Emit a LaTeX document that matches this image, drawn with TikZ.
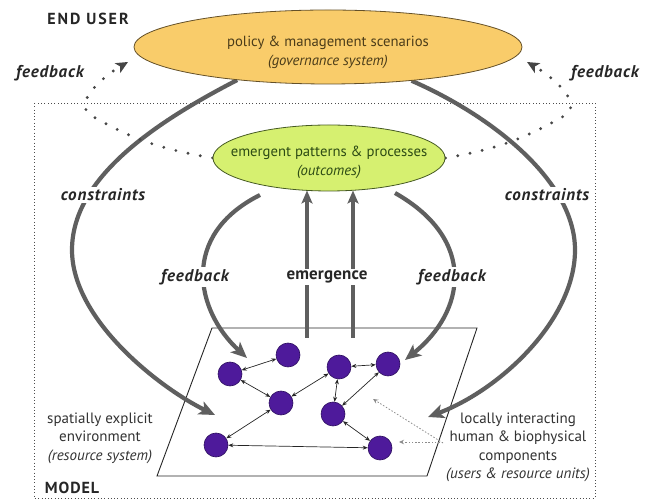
\documentclass[tikz,border=0pt]{standalone}
\usepackage{fontspec}
\setmainfont{PT Sans}
\usetikzlibrary{arrows.meta,shapes.geometric}
\definecolor{ellorange}{RGB}{249,204,106}
\definecolor{ellorangeline}{RGB}{100,80,40}
\definecolor{ellgreen}{RGB}{214,240,112}
\definecolor{ellgreenline}{RGB}{70,90,35}
\definecolor{txtbrown}{RGB}{75,60,25}
\definecolor{txtgreen}{RGB}{45,75,20}
\definecolor{arrowgray}{RGB}{95,95,95}
\definecolor{dotgray}{RGB}{70,70,70}
\definecolor{agentpurple}{RGB}{78,26,155}
\definecolor{agentline}{RGB}{45,15,95}
\definecolor{txtgray}{RGB}{50,50,50}
\pgfdeclarelayer{back}
\pgfsetlayers{back,main}
\begin{document}
\begin{tikzpicture}[x=1pt,y=1pt,
  bigell/.style={ellipse, draw=ellorangeline, line width=0.8pt, fill=ellorange, minimum width=388pt, minimum height=74pt, inner sep=0pt},
  midell/.style={ellipse, draw=ellgreenline, line width=0.8pt, fill=ellgreen, minimum width=232pt, minimum height=66pt, inner sep=0pt},
  elltxt/.style={font=\fontsize{14.7}{17}\selectfont, inner sep=0pt},
  lab/.style={font=\fontsize{17}{20}\selectfont\bfseries\itshape\addfontfeature{LetterSpace=5}, fill=white, inner sep=2pt, text=black!85},
  labup/.style={font=\fontsize{17}{20}\selectfont\bfseries\addfontfeature{LetterSpace=1}, fill=white, inner sep=2pt, text=black!85},
  head/.style={font=\fontsize{16}{19}\selectfont\bfseries, text=black!85, inner sep=0pt},
  desc/.style={font=\fontsize{15}{18.5}\selectfont, align=center, text=txtgray, inner sep=0pt},
  bigarrow/.style={draw=arrowgray, line width=4.2pt, -{Stealth[length=16pt,width=14pt,inset=4pt]}},
  emarrow/.style={draw=arrowgray, line width=3.6pt, -{Stealth[length=13pt,width=11pt,inset=3pt]}},
  dotarrow/.style={draw=dotgray, line width=3.2pt, line cap=round, dash pattern=on 0pt off 12.5pt, -{Stealth[length=12pt,width=11pt,inset=3pt]}},
  pointer/.style={draw=black!45, line width=0.8pt, dash pattern=on 1.5pt off 1.8pt, -{Stealth[length=5pt,width=4.5pt]}},
  frame/.style={draw=black!70, line width=0.9pt, dash pattern=on 0.9pt off 2.4pt},
  planeline/.style={draw=black!85, line width=0.9pt},
  agent/.style={circle, fill=agentpurple, draw=agentline, line width=0.6pt, minimum size=24pt, inner sep=0pt},
  link/.style={draw=black!85, line width=0.7pt, {Stealth[length=5pt,width=4pt]}-{Stealth[length=5pt,width=4pt]}}
]
\useasboundingbox (0,0) rectangle (652,500);

% ellipses
\node[bigell] (pm) at (328,453) {};
\node[elltxt, text=txtbrown] (pmt1) at (328,457) {policy \& management scenarios};
\node[elltxt, text=txtbrown] (pmt2) at (328,438) {\itshape (governance system)};
\node[midell] (gr) at (329,342) {};
\node[elltxt, text=txtgreen] (grt1) at (329,347) {emergent patterns \& processes};
\node[elltxt, text=txtgreen] (grt2) at (329,328) {\itshape (outcomes)};

% named free ends
\coordinate (cLmid) at (72,250);
\coordinate (cLtip) at (215,85);
\coordinate (cRmid) at (575,250);
\coordinate (cRtip) at (428,83);
\coordinate (fLs) at (260,305);
\coordinate (fLtip) at (247,142);
\coordinate (fRs) at (395,307);
\coordinate (fRtip) at (405,140);
\coordinate (e1s) at (307,162);
\coordinate (e1t) at (307,309.5);
\coordinate (e2s) at (353,162);
\coordinate (e2t) at (353,309.5);
\coordinate (dLc) at (92,384);
\coordinate (dLtip) at (128,438);
\coordinate (dRc) at (564,384);
\coordinate (dRtip) at (527,438);
\coordinate (pS1) at (443,57);
\coordinate (pS2) at (443,58);
\coordinate (pT1) at (373,101);
\coordinate (pT2) at (399,58);

\begin{pgfonlayer}{back}
\draw[frame] (34,397) rectangle (595,2);
\draw[planeline] (157,24) -- (427,24) -- (477,172) -- (212,172) -- cycle;
\draw[bigarrow] (pm.200) .. controls (150,375) and (72,320) .. (cLmid) .. controls (72,180) and (160,112) .. (cLtip);
\draw[bigarrow] (pm.-22) .. controls (490,385) and (575,320) .. (cRmid) .. controls (575,180) and (500,110) .. (cRtip);
\draw[bigarrow] (fLs) .. controls (180,265) and (195,190) .. (fLtip);
\draw[bigarrow] (fRs) .. controls (478,260) and (465,188) .. (fRtip);
\draw[emarrow] (e1s) -- (e1t);
\draw[emarrow] (e2s) -- (e2t);
\draw[dotarrow] (gr.west) to[out=170,in=-30] (dLc) to[out=150,in=-150] (dLtip);
\draw[dotarrow] (gr.east) to[out=10,in=-150] (dRc) to[out=30,in=-30] (dRtip);
\draw[pointer] (pS1) -- (pT1);
\draw[pointer] (pS2) -- (pT2);
\end{pgfonlayer}

% labels
\node[head] (enduser) at (88,481) {\addfontfeature{LetterSpace=12}END USER};
\node[head] (model) at (72,12) {\addfontfeature{LetterSpace=6}MODEL};
\node[lab] (fbtl) at (50,427) {feedback};
\node[lab] (fbtr) at (605,427) {feedback};
\node[lab] (conl) at (103,305) {constraints};
\node[lab] (conr) at (547,305) {constraints};
\node[lab] (fbl) at (195,223) {feedback};
\node[lab] (fbr) at (452,223) {feedback};
\node[labup] (emer) at (327,223) {emergence};
\node[desc] (envtxt) at (100,62) {spatially explicit\\environment\\\itshape (resource system)};
\node[desc] (comptxt) at (518,52.5) {locally interacting\\human \& biophysical\\components\\\itshape (users \& resource units)};

% agents
\node[agent] (A) at (230,126) {};
\node[agent] (B) at (288,145) {};
\node[agent] (C) at (281,97) {};
\node[agent] (D) at (339,133) {};
\node[agent] (E) at (388,136) {};
\node[agent] (F) at (333,86) {};
\node[agent] (G) at (216,55) {};
\node[agent] (H) at (380,52) {};
\draw[link] (A) -- (B);
\draw[link] (A) -- (C);
\draw[link] (C) -- (D);
\draw[link] (C) -- (G);
\draw[link] (D) -- (E);
\draw[link] (D) -- (F);
\draw[link] (E) -- (F);
\draw[link] (F) -- (H);
\draw[link] (G) -- (H);
\end{tikzpicture}
\end{document}
